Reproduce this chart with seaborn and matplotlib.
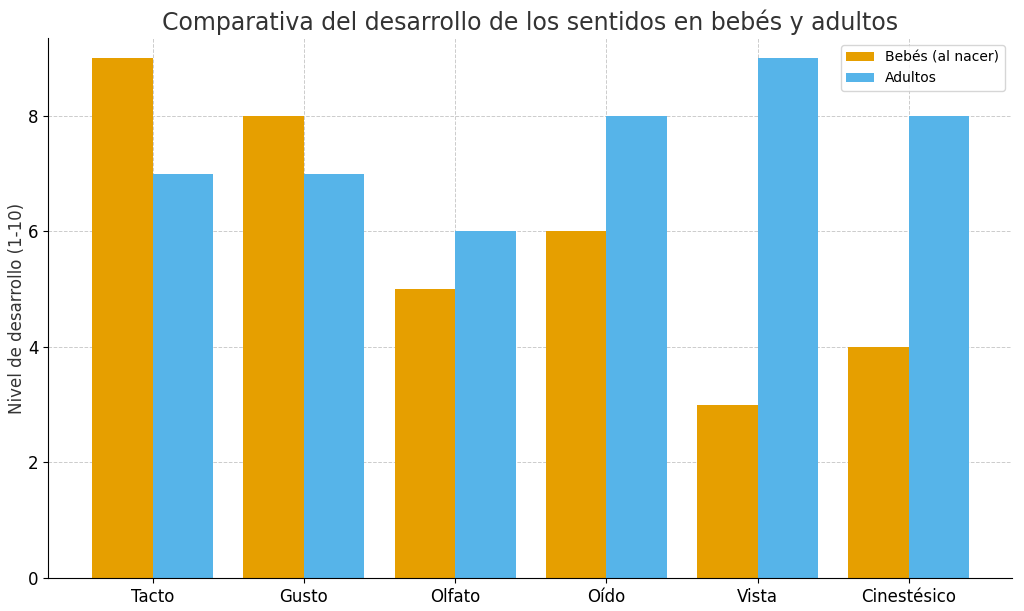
import matplotlib
matplotlib.use("Agg")
import matplotlib.pyplot as plt
import seaborn as sns
import pandas as pd

sentidos = ["Tacto", "Gusto", "Olfato", "Oído", "Vista", "Cinestésico"]
bebes = [9, 8, 5, 6, 3, 4]
adultos = [7, 7, 6, 8, 9, 8]

df = pd.DataFrame({
    "Sentido": sentidos * 2,
    "Nivel": bebes + adultos,
    "Grupo": ["Bebés (al nacer)"] * 6 + ["Adultos"] * 6,
})

fig, ax = plt.subplots(figsize=(10.24, 6.11), dpi=100)
sns.barplot(data=df, x="Sentido", y="Nivel", hue="Grupo",
            palette=["#E69F00", "#56B4E9"], width=0.8, saturation=1, ax=ax)

ax.set_title("Comparativa del desarrollo de los sentidos en bebés y adultos",
             fontsize=17, color="#333333")
ax.set_xlabel("")
ax.set_ylabel("Nivel de desarrollo (1-10)", fontsize=12, color="#333333")
ax.set_yticks([0, 2, 4, 6, 8])
ax.set_xlim(-0.69, 5.68)
ax.set_ylim(0, 9.35)
ax.tick_params(labelsize=12)
ax.grid(True, linestyle="--", color="#cccccc", linewidth=0.7)
ax.set_axisbelow(True)
ax.spines["top"].set_visible(False)
ax.spines["right"].set_visible(False)
ax.legend(title=None, loc="upper right", fontsize=10)

plt.subplots_adjust(left=0.047, right=0.988, top=0.938, bottom=0.054)
ax.yaxis.set_label_coords(-0.023, 0.5)
plt.savefig("out.png")
